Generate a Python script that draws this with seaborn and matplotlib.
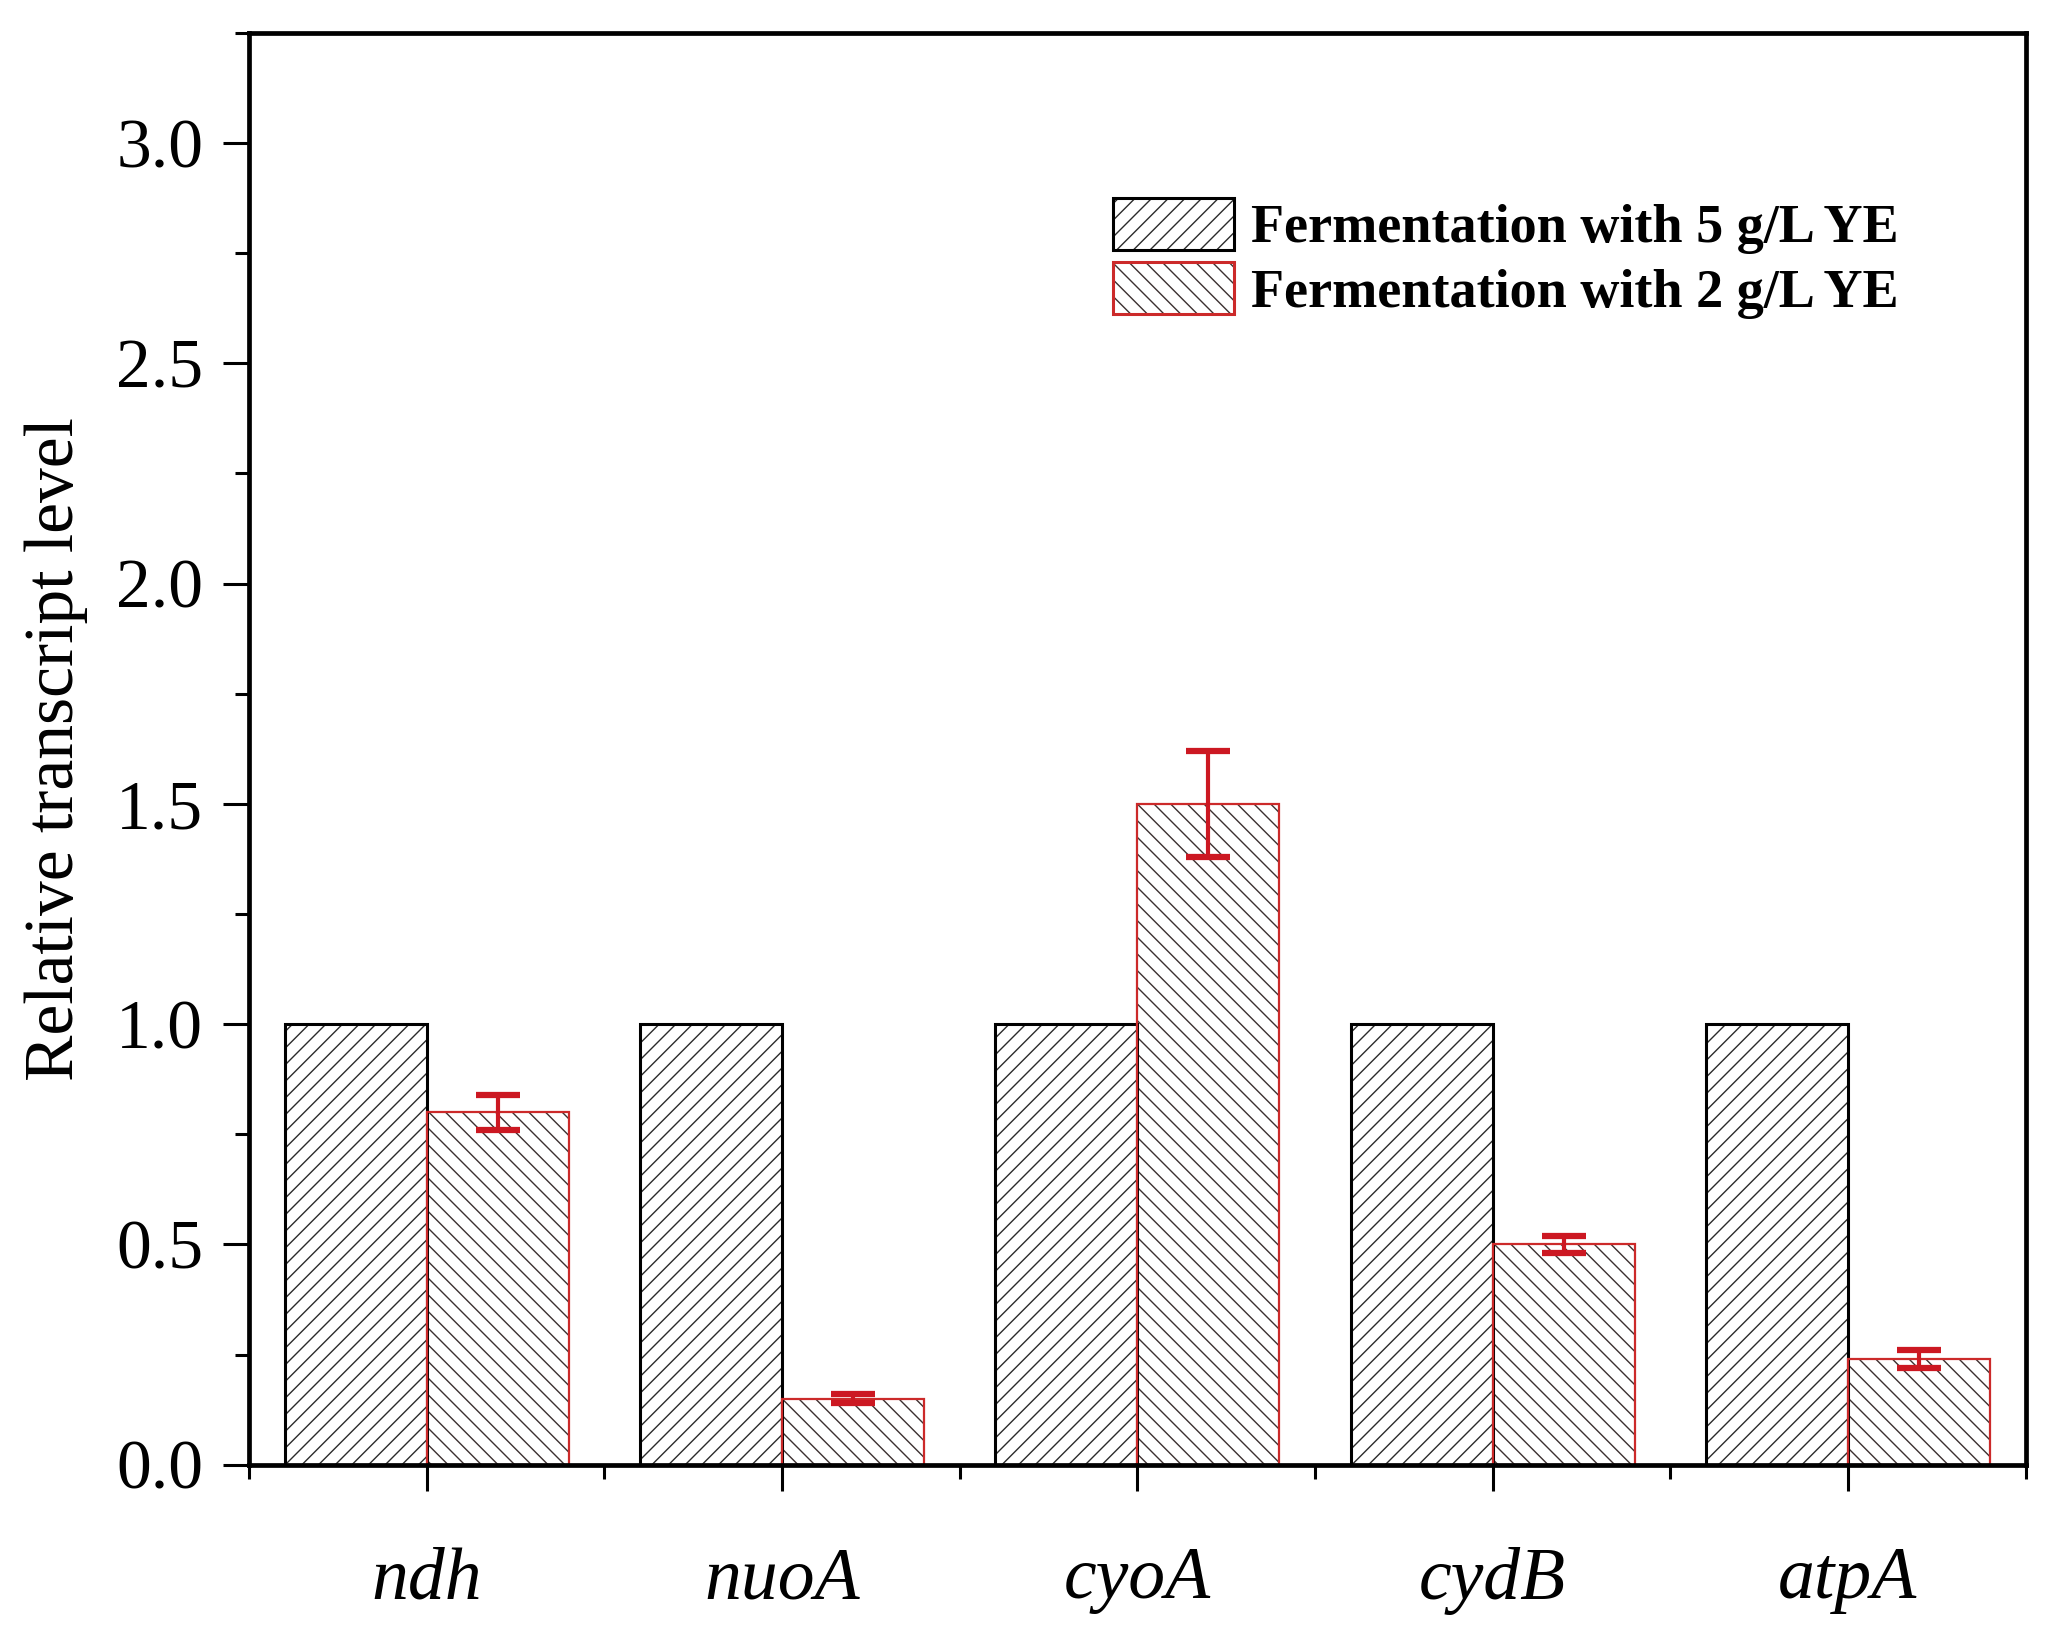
import numpy as np
import pandas as pd
import matplotlib
matplotlib.use('Agg')
import matplotlib.pyplot as plt
import matplotlib.patches as mpatches
from matplotlib.legend_handler import HandlerTuple
from matplotlib.ticker import MultipleLocator, FixedLocator
import seaborn as sns

# data
genes = ['ndh', 'nuoA', 'cyoA', 'cydB', 'atpA']
conditions = ['Fermentation with 5 g/L YE', 'Fermentation with 2 g/L YE']
level_5g = [1.0, 1.0, 1.0, 1.0, 1.0]
level_2g = [0.80, 0.15, 1.50, 0.50, 0.24]
err_2g = [0.04, 0.01, 0.12, 0.02, 0.02]

df = pd.DataFrame({
    'gene': genes * 2,
    'condition': [conditions[0]] * len(genes) + [conditions[1]] * len(genes),
    'level': level_5g + level_2g,
})

sns.set_style('ticks')
plt.rcParams['font.family'] = ['Liberation Serif', 'DejaVu Serif']
plt.rcParams['hatch.linewidth'] = 1.0
plt.rcParams['text.color'] = 'black'
plt.rcParams['axes.labelcolor'] = 'black'
plt.rcParams['xtick.color'] = 'black'
plt.rcParams['ytick.color'] = 'black'

edge_cols = ['black', '#cc2a2a']
hatch_cols = ['#2b2b2b', '#3c3030']
hatches = ['//', '\\\\']
err_col = '#cc1822'

fig = plt.figure(figsize=(20.46, 16.47), dpi=100)
ax = fig.add_axes([0.1218, 0.1107, 0.990 - 0.1218, 0.980 - 0.1107])

# layer 1: white fill + hatch
sns.barplot(data=df, x='gene', y='level', hue='condition', order=genes,
            hue_order=conditions, palette=['white', 'white'], width=0.8,
            errorbar=None, legend=False, ax=ax)
for i, cont in enumerate(ax.containers[:2]):
    for bar in cont:
        bar.set_edgecolor(hatch_cols[i])
        bar.set_hatch(hatches[i])
        bar.set_linewidth(0)

# layer 2: outlines
sns.barplot(data=df, x='gene', y='level', hue='condition', order=genes,
            hue_order=conditions, palette=edge_cols, width=0.8, fill=False,
            errorbar=None, legend=False, ax=ax)
for i, cont in enumerate(ax.containers[2:4]):
    for bar in cont:
        bar.set_linewidth(2.2 if i == 0 else 1.6)

# error bars on the 2 g/L bars
red_bars = ax.containers[3]
xs = [b.get_x() + b.get_width() / 2 for b in red_bars]
ax.errorbar(xs, level_2g, yerr=err_2g, fmt='none', ecolor=err_col,
            elinewidth=3, capsize=16, capthick=4.5, zorder=5)

# axes
ax.set_xlim(-0.5, len(genes) - 0.5)
ax.set_ylim(0, 3.25)
ax.yaxis.set_major_locator(MultipleLocator(0.5))
ax.yaxis.set_minor_locator(MultipleLocator(0.25))
ax.xaxis.set_minor_locator(FixedLocator(np.arange(-0.5, len(genes), 1.0)))
ax.set_xticks(range(len(genes)))
ax.set_xticklabels(genes, fontsize=53, style='italic')
for lab in ax.get_yticklabels():
    lab.set_fontsize(50)

ax.tick_params(axis='both', which='major', direction='out', length=19, width=2.2)
ax.tick_params(axis='both', which='minor', direction='out', length=10, width=2.2)
ax.tick_params(axis='x', which='major', pad=40)
ax.tick_params(axis='y', which='major', pad=14)

for sp in ax.spines.values():
    sp.set_visible(True)
    sp.set_linewidth(3.4)
    sp.set_color('black')

ax.set_xlabel('')
ax.set_ylabel('Relative transcript level', fontsize=50, labelpad=20)

# legend: hatch patch overlaid with outline patch
handles = []
for i in range(2):
    h1 = mpatches.Patch(facecolor='white', edgecolor=hatch_cols[i], hatch=hatches[i], linewidth=0)
    h2 = mpatches.Patch(fill=False, edgecolor=edge_cols[i], linewidth=2.2)
    handles.append((h1, h2))
ax.legend(handles, conditions, handler_map={tuple: HandlerTuple(ndivide=1, pad=0)},
          loc='upper left', bbox_to_anchor=(0.486, 0.885), frameon=False,
          borderpad=0, borderaxespad=0, labelspacing=0.15, handletextpad=0.3,
          handlelength=2.25, handleheight=1.1,
          prop={'weight': 'bold', 'size': 39})

fig.savefig('out.png', dpi=100)
